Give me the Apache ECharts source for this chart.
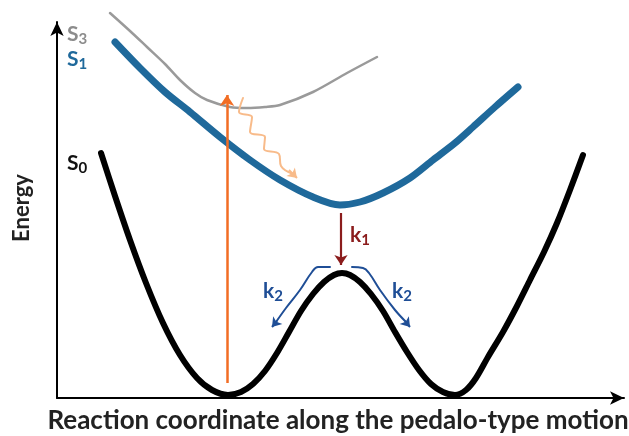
<!DOCTYPE html>
<html><head><meta charset="utf-8">
<script src="https://cdn.jsdelivr.net/npm/echarts@6/dist/echarts.min.js"></script>
<style>html,body{margin:0;padding:0;background:#fff}#c{width:629px;height:436px}</style>
</head><body><div id="c"></div>
<script>
// Potential energy curves: [reaction coordinate, energy]
const s0Curve = [[44,245],[58,202],[73,158],[89,115],[106,75],[123,43],[140,20],[155,8],[171,3],[184,6],[196,14],[208,27],[220,45],[232,66],[244,87],[256,104],[267,116],[277,123],[285,125],[293,123],[303,116],[314,104],[326,87],[338,66],[350,46],[362,28],[374,14],[386,6],[398,3],[409,8],[419,20],[431,41],[446,66],[460,92],[473,118],[487,146],[500,175],[513,208],[526,243]];
const s1Curve = [[58,356],[83,330],[108,306],[133,286],[163,261],[193,238],[223,218],[256,201],[283,193],[303,196],[326,205],[353,220],[376,238],[398,255],[416,271],[438,291],[461,311]];
const s3Curve = [[53,385],[73,367],[90,351],[108,334],[123,318],[138,305],[150,298],[173,291],[190,290],[208,291],[223,293],[256,306],[290,325],[320,341]];
// Annotation arrows
const excitationArrow = [[170,15],[170,303]];
const relaxWave = [[186,300],[182,286],[195,281],[193,266],[208,261],[207,249],[222,244],[224,232],[236,224]];
const relaxHead = [[232,228],[240,220]];
const k1Arrow = [[284,185],[284,133]];
const k2Left = [[273,131],[261,131],[255,126],[243,108],[229,90],[219,76]];
const k2LeftHead = [[220,77],[215,71]];
const k2Right = [[295,131],[306,130],[312,125],[323,108],[338,88],[349,76]];
const k2RightHead = [[348,77],[353,71]];

const chart = echarts.init(document.getElementById('c'));
function curve(data,color,width){return {type:'line',data:data,smooth:0.3,symbol:'none',clip:false,lineStyle:{color:color,width:width,cap:'round',join:'round'},z:3};}
function path(data,color,width){return {type:'line',data:data,smooth:0.4,symbol:'none',clip:false,lineStyle:{color:color,width:width,cap:'round'},z:4};}
function arrow(coords,color,width,size){return {type:'lines',coordinateSystem:'cartesian2d',clip:false,data:[{coords:coords}],symbol:['none','arrow'],symbolSize:size,lineStyle:{color:color,width:width,opacity:1,curveness:0},z:5};}
function lab(t,s,c){return {text:'{S|'+t+'}{s|'+s+'}',rich:{S:{fontFamily:'Lato',fontWeight:'bold',fontSize:21,fill:c},s:{fontFamily:'Lato',fontWeight:'bold',fontSize:15,fill:c,padding:[10,0,0,0]}}};}
chart.setOption({
  animation:false,
  grid:{left:57,top:22,right:5,bottom:38},
  xAxis:{type:'value',min:0,max:567,splitLine:{show:false},axisTick:{show:false},axisLabel:{show:false},
    axisLine:{show:true,onZero:false,symbol:['none','arrow'],symbolSize:[10,14],lineStyle:{color:'#000',width:2}}},
  yAxis:{type:'value',min:0,max:376,splitLine:{show:false},axisTick:{show:false},axisLabel:{show:false},
    axisLine:{show:true,onZero:false,symbol:['none','arrow'],symbolSize:[10,14],lineStyle:{color:'#000',width:2}}},
  series:[
    curve(s3Curve,'#9a9a9a',2.5),
    curve(s1Curve,'#1f699b',7),
    curve(s0Curve,'#000000',6),
    arrow(excitationArrow,'#f26d24',2.5,11),
    path(relaxWave,'#f8bb8a',2),
    arrow(relaxHead,'#f8bb8a',2,9),
    arrow(k1Arrow,'#8b1c1c',2.2,10),
    path(k2Left,'#1f4e96',2),
    arrow(k2LeftHead,'#1f4e96',2,9),
    path(k2Right,'#1f4e96',2),
    arrow(k2RightHead,'#1f4e96',2,9)
  ],
  graphic:[
    {type:'text',left:67,top:24,style:lab('S','3','#8c8c8c')},
    {type:'text',left:67,top:49,style:lab('S','1','#1f699b')},
    {type:'text',left:67,top:153,style:lab('S','0','#111')},
    {type:'text',left:350,top:225,style:lab('k','1','#8b1c1c')},
    {type:'text',left:263,top:281,style:lab('k','2','#1f4e96')},
    {type:'text',left:392,top:281,style:lab('k','2','#1f4e96')},
    {type:'text',x:22,y:208,rotation:Math.PI/2,style:{text:'Energy',fontFamily:'Lato',fontWeight:'bold',fontSize:22,fill:'#222',align:'center',verticalAlign:'middle'}},
    {type:'text',x:338,y:421,style:{text:'Reaction coordinate along the pedalo-type motion',fontFamily:'Lato',fontWeight:'bold',fontSize:26,fill:'#222',align:'center',verticalAlign:'middle'}}
  ]
});
</script></body></html>
